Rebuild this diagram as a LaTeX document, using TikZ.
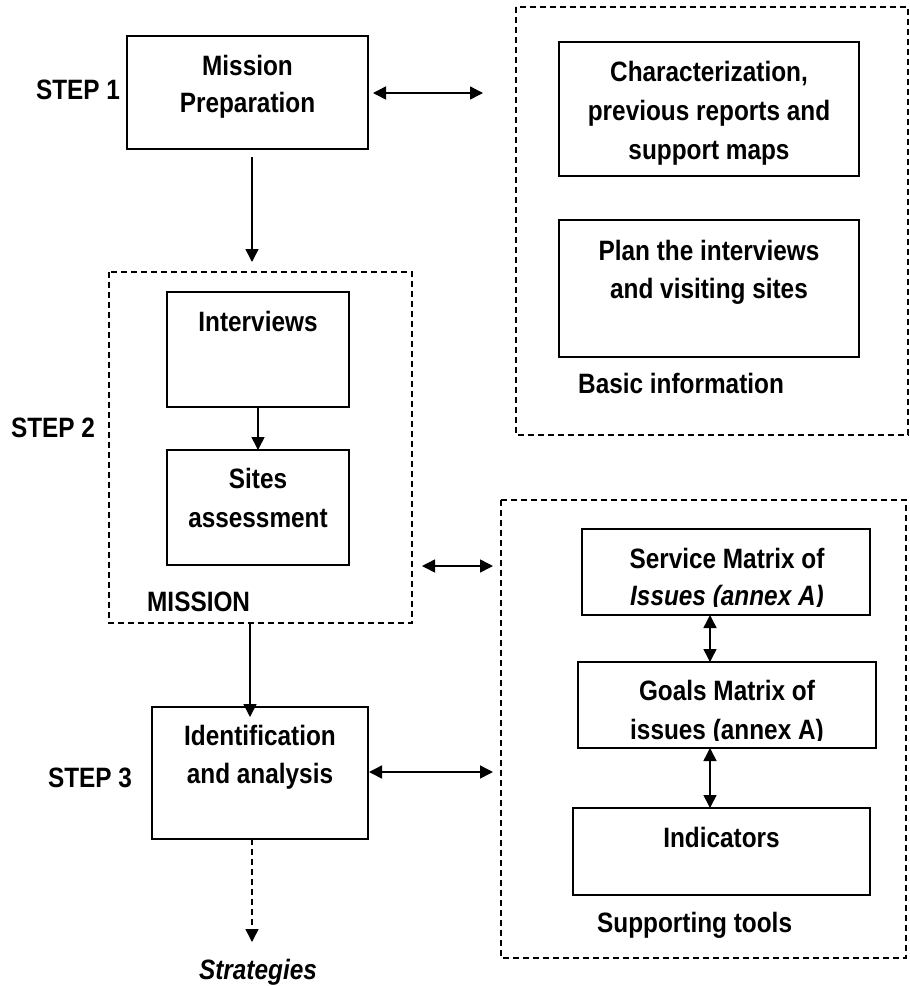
\documentclass[tikz,border=0pt]{standalone}
\usepackage{fontspec}
\setmainfont{Liberation Sans}[FakeStretch=0.87]
\usetikzlibrary{arrows.meta,calc}

\tikzset{
  stepbox/.style={draw, line width=2pt, inner sep=0pt},
  groupbox/.style={draw, line width=1.5pt, dash pattern=on 6pt off 4pt},
  lbl/.style={font=\fontsize{28}{39}\selectfont\bfseries, inner sep=0pt, anchor=base},
  lblit/.style={lbl, font=\fontsize{28}{39}\selectfont\bfseries\itshape},
  tip/.style={-{Triangle[length=13pt,width=13pt]}, line width=1.5pt},
  bitip/.style={{Triangle[length=13pt,width=13pt]}-{Triangle[length=13pt,width=13pt]}, line width=1.5pt},
}

\begin{document}
\begin{tikzpicture}[x=1pt, y=-1pt]
\useasboundingbox (0,0) rectangle (910,986);

% dashed group frames
\draw[groupbox] (516,7) rectangle (908,435);
\node[inner sep=0pt] (basicgrp) at (712,221) {};
\draw[groupbox] (109,272) rectangle (412,623);
\node[inner sep=0pt] (missiongrp) at (260,448) {};
\draw[groupbox] (501,500) rectangle (906,958);
\node[inner sep=0pt] (toolsgrp) at (703,729) {};

% step 1
\draw[stepbox] (127,36) rectangle (368,149);
\node[lbl] (mp1) at (247.5,75) {Mission};
\node[lbl] (mp2) at (247.5,112) {Preparation};
\node[lbl] (step1) at (78,99) {STEP 1};
\coordinate (mpE) at (373,93);
\coordinate (biW) at (483,93);
\coordinate (mpS) at (252,157);
\coordinate (misN) at (252,262);

% basic information
\draw[stepbox] (559,42) rectangle (859,176);
\node[lbl] (ch1) at (709,81) {Characterization,};
\node[lbl] (ch2) at (709,120) {previous reports and};
\node[lbl] (ch3) at (709,159) {support maps};
\draw[stepbox] (559,220) rectangle (859,357);
\node[lbl] (pl1) at (709,260) {Plan the interviews};
\node[lbl] (pl2) at (709,298) {and visiting sites};
\node[lbl, anchor=base west] (basic) at (578,393) {Basic information};

% step 2
\draw[stepbox] (167,292) rectangle (349,407);
\node[lbl] (intv) at (258,331) {Interviews};
\draw[stepbox] (167,450) rectangle (349,565);
\node[lbl] (st1) at (258,488) {Sites};
\node[lbl] (st2) at (258,527) {assessment};
\node[lbl, anchor=base west] (mission) at (147,611) {MISSION};
\node[lbl] (step2) at (53,437) {STEP 2};
\coordinate (intvS) at (258,407);
\coordinate (siteN) at (258,450);
\coordinate (misE) at (422,566);
\coordinate (toolW) at (493,566);
\coordinate (misS) at (250,623);

% supporting tools (the lower text lines are cut off by the frame)
\begin{scope}
  \clip (582,529) rectangle (870,606);
  \node[lbl] (sv1) at (727,568) {Service Matrix of};
  \node[lblit] (sv2) at (727,605) {Issues (annex A)};
\end{scope}
\draw[stepbox] (582,529) rectangle (870,615);
\begin{scope}
  \clip (578,662) rectangle (876,740);
  \node[lbl] (gl1) at (727,700) {Goals Matrix of};
  \node[lbl] (gl2) at (727,739) {issues (annex A)};
\end{scope}
\draw[stepbox] (578,662) rectangle (876,748);
\draw[stepbox] (573,808) rectangle (870,895);
\node[lbl] (ind) at (721.5,847) {Indicators};
\node[lbl, anchor=base west] (tools) at (597,932) {Supporting tools};
\coordinate (svS) at (710,615);
\coordinate (glN) at (710,662);
\coordinate (glS) at (710,748);
\coordinate (indN) at (710,808);

% step 3
\draw[stepbox] (152,707) rectangle (368,839);
\node[lbl] (id1) at (260,745) {Identification};
\node[lbl] (id2) at (260,783) {and analysis};
\node[lbl] (step3) at (90,787) {STEP 3};
\coordinate (idN) at (250,717);
\coordinate (idE) at (369,772);
\coordinate (toolW2) at (493,772);
\coordinate (idS) at (252,839);
\node[lblit] (strat) at (258,979) {Strategies};
\coordinate (stratN) at (252,942);

% connectors
\draw[bitip] (mpE) -- (biW);
\draw[tip] (mpS) -- (misN);
\draw[tip] (intvS) -- (siteN);
\draw[bitip] (misE) -- (toolW);
\draw[tip] (misS) -- (idN);
\draw[bitip] (idE) -- (toolW2);
\draw[bitip] (svS) -- (glN);
\draw[bitip] (glS) -- (indN);
\draw[tip, dash pattern=on 6pt off 4pt] (idS) -- (stratN);
\end{tikzpicture}
\end{document}
